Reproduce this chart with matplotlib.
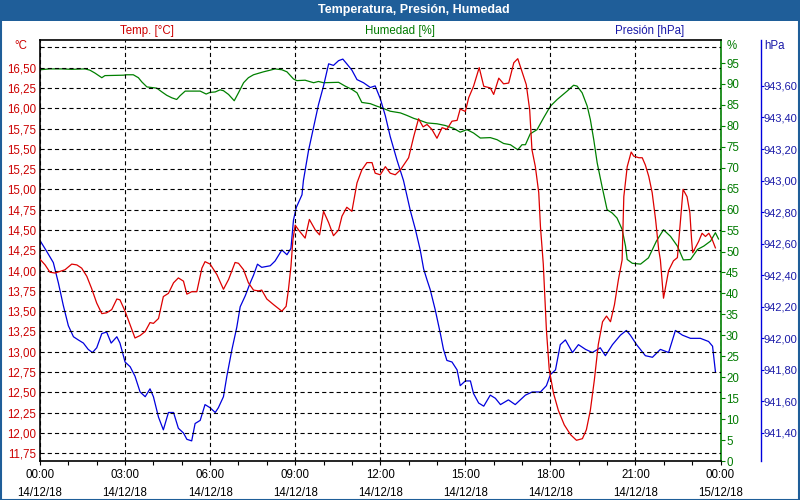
import matplotlib
matplotlib.use("Agg")
import matplotlib.pyplot as plt
from matplotlib.ticker import MultipleLocator
from matplotlib.patches import Rectangle

# ---------------- data (hours since 14/12/18 00:00) ----------------
temp_hours = [0.00, 0.18, 0.35, 0.53, 0.71, 0.88, 1.12, 1.30, 1.47, 1.65, 1.82, 2.00, 2.18, 2.35,
              2.53, 2.71, 2.82, 3.00, 3.18, 3.35, 3.53, 3.71, 3.88, 4.00, 4.18, 4.35, 4.53, 4.71,
              4.88, 5.06, 5.18, 5.35, 5.53, 5.71, 5.82, 6.00, 6.24, 6.47, 6.65, 6.88, 7.00, 7.18,
              7.35, 7.53, 7.71, 7.82, 8.00, 8.24, 8.53, 8.68, 8.76, 8.85, 8.92, 9.00, 9.12, 9.35,
              9.50, 9.71, 9.86, 10.00, 10.18, 10.35, 10.53, 10.65, 10.82, 11.00, 11.18, 11.35,
              11.53, 11.71, 11.82, 12.00, 12.18, 12.35, 12.53, 12.71, 13.00, 13.18, 13.35, 13.51,
              13.65, 13.82, 14.00, 14.18, 14.35, 14.53, 14.71, 14.82, 15.00, 15.12, 15.29, 15.49,
              15.65, 15.88, 16.00, 16.18, 16.35, 16.53, 16.71, 16.85, 17.00, 17.15, 17.27, 17.35,
              17.47, 17.59, 17.65, 17.75, 17.86, 17.96, 18.11, 18.28, 18.49, 18.71, 18.92, 19.13,
              19.27, 19.41, 19.55, 19.69, 19.84, 19.98, 20.12, 20.26, 20.40, 20.53, 20.59, 20.71,
              20.85, 20.94, 21.12, 21.24, 21.35, 21.47, 21.59, 21.71, 21.82, 21.88, 21.99, 22.17,
              22.34, 22.48, 22.68, 22.82, 22.92, 22.98, 23.02, 23.08, 23.23, 23.35, 23.47, 23.59,
              23.71, 23.82]
temp_vals = [14.14, 14.07, 13.98, 13.97, 13.99, 14.01, 14.08, 14.07, 14.03, 13.93, 13.78, 13.60, 13.47, 13.48,
             13.52, 13.65, 13.64, 13.50, 13.33, 13.17, 13.20, 13.25, 13.36, 13.35, 13.41, 13.68, 13.72, 13.85,
             13.91, 13.87, 13.71, 13.74, 13.74, 14.03, 14.11, 14.08, 13.95, 13.77, 13.89, 14.10, 14.09, 14.01,
             13.85, 13.76, 13.75, 13.76, 13.65, 13.58, 13.50, 13.56, 13.76, 14.05, 14.38, 14.56, 14.50, 14.40,
             14.63, 14.50, 14.44, 14.73, 14.59, 14.43, 14.50, 14.67, 14.78, 14.73, 15.08, 15.24,
             15.33, 15.33, 15.20, 15.18, 15.28, 15.20, 15.18, 15.24, 15.39, 15.65, 15.87, 15.77,
             15.80, 15.74, 15.63, 15.76, 15.74, 15.84, 15.85, 15.99, 15.96, 16.13, 16.27, 16.50,
             16.27, 16.25, 16.17, 16.37, 16.30, 16.31, 16.56, 16.61, 16.45, 16.29, 15.98, 15.49,
             15.28, 14.96, 14.54, 14.08, 13.27, 12.78, 12.49, 12.28, 12.10, 11.98, 11.91, 11.93,
             12.04, 12.28, 12.65, 13.09, 13.37, 13.44, 13.37, 13.58, 13.89, 14.13, 14.91, 15.28,
             15.46, 15.41, 15.39, 15.39, 15.30, 15.16, 14.96, 14.63, 14.26, 14.13, 13.66, 14.00,
             14.12, 14.16, 15.00, 14.91, 14.71, 14.38, 14.22, 14.26, 14.36, 14.46, 14.42, 14.46,
             14.38, 14.28]

hum_hours = [0.00, 0.35, 0.77, 1.12, 1.59, 1.76, 1.94, 2.18, 2.29, 2.94, 3.06, 3.29, 3.47, 3.59, 3.77,
             4.12, 4.30, 4.47, 4.65, 4.82, 4.94, 5.12, 5.65, 5.86, 6.00, 6.18, 6.35, 6.47, 6.65, 6.85,
             7.00, 7.18, 7.35, 7.53, 7.88, 8.12, 8.29, 8.53, 8.71, 8.94, 9.06, 9.35, 9.65, 9.82, 10.00,
             10.53, 10.76, 11.00, 11.18, 11.35, 11.65, 11.88, 12.06, 12.35, 12.71, 12.94, 13.18, 13.41,
             13.65, 14.00, 14.29, 14.59, 14.82, 15.06, 15.29, 15.53, 15.88, 16.12, 16.35, 16.59, 16.85,
             17.00, 17.12, 17.29, 17.53, 17.76, 18.00, 18.24, 18.59, 18.82, 18.94, 19.12, 19.30, 19.41,
             19.53, 19.65, 19.82, 20.00, 20.18, 20.35, 20.53, 20.65, 20.71, 20.89, 21.18, 21.46, 21.74,
             21.99, 22.24, 22.48, 22.69, 22.94, 23.19, 23.41, 23.65, 23.82, 23.93]
hum_vals = [93.4, 93.6, 93.6, 93.5, 93.6, 93.3, 92.6, 91.5, 92.0, 92.1, 92.2, 92.2, 91.5, 90.5, 89.3,
            89.0, 88.1, 87.3, 86.7, 86.3, 87.2, 88.3, 88.3, 87.6, 88.0, 88.1, 88.6, 88.4, 87.5, 86.0,
            87.9, 90.3, 91.5, 92.2, 92.9, 93.3, 93.6, 93.4, 92.9, 91.2, 90.8, 90.9, 90.3, 90.6, 90.3,
            90.4, 89.5, 88.7, 87.9, 85.6, 85.3, 84.7, 84.3, 83.5, 83.1, 82.5, 81.8, 81.3,
            80.7, 80.5, 80.1, 79.4, 78.5, 79.1, 78.3, 77.1, 77.2, 76.7, 75.8, 75.5, 74.3,
            75.5, 75.5, 78.1, 79.1, 81.9, 84.7, 86.3, 88.3, 89.7, 89.5, 87.9, 84.7, 81.5,
            76.7, 71.2, 65.6, 60.0, 59.2, 58.0, 55.3, 51.3, 48.1, 47.2, 47.0, 48.5, 52.5,
            55.2, 53.6, 51.3, 48.0, 48.1, 50.5, 51.3, 52.5, 54.5, 53.0]

pres_hours = [0.00, 0.24, 0.47, 0.65, 0.82, 1.00, 1.18, 1.35, 1.53, 1.70, 1.85, 2.00, 2.18, 2.35, 2.51,
              2.71, 2.82, 3.00, 3.18, 3.35, 3.53, 3.71, 3.88, 4.00, 4.18, 4.35, 4.53, 4.71, 4.88, 5.06,
              5.18, 5.35, 5.47, 5.65, 5.82, 6.00, 6.18, 6.29, 6.47, 6.59, 6.77, 6.94, 7.06, 7.24, 7.41,
              7.53, 7.67, 7.82, 8.12, 8.29, 8.53, 8.71, 8.85, 8.94, 9.04, 9.24, 9.29, 9.47, 9.65, 9.82,
              10.00, 10.18, 10.35, 10.53, 10.68, 10.82, 11.00, 11.18, 11.41, 11.65, 11.82, 12.00, 12.18,
              12.35, 12.59, 12.82, 13.06, 13.24, 13.41, 13.53, 13.65, 13.76, 13.94, 14.12, 14.23, 14.35,
              14.53, 14.71, 14.82, 15.00, 15.18, 15.29, 15.47, 15.65, 15.88, 16.06, 16.24, 16.52, 16.76,
              16.94, 17.12, 17.36, 17.65, 17.86, 18.00, 18.18, 18.35, 18.53, 18.78, 18.99, 19.24, 19.48,
              19.76, 19.94, 20.19, 20.47, 20.68, 20.82, 21.04, 21.35, 21.60, 21.88, 22.17, 22.41, 22.66,
              22.94, 23.29, 23.58, 23.72, 23.79, 23.82]
pres_vals = [942.62, 942.55, 942.48, 942.35, 942.21, 942.08, 942.01, 941.99, 941.97, 941.93, 941.91, 941.94,
             942.03, 942.04, 941.97, 942.01, 941.97, 941.85, 941.82, 941.76, 941.66, 941.63, 941.68, 941.63,
             941.50, 941.42, 941.53, 941.53, 941.43, 941.40, 941.36, 941.35, 941.46, 941.48, 941.58, 941.56,
             941.53, 941.56, 941.63, 941.76, 941.93, 942.07, 942.20, 942.27, 942.35, 942.40, 942.47, 942.45,
             942.46, 942.49, 942.56, 942.53, 942.57, 942.75, 942.83, 942.91, 943.00, 943.19, 943.34, 943.48,
             943.60, 943.74, 943.73, 943.76, 943.77, 943.74, 943.70, 943.64, 943.62, 943.59, 943.60, 943.52,
             943.41, 943.28, 943.13, 943.00, 942.81, 942.69, 942.56, 942.44, 942.37, 942.31, 942.18, 942.03,
             941.93, 941.86, 941.85, 941.80, 941.70, 941.73, 941.73, 941.65, 941.59, 941.57, 941.64, 941.62,
             941.58, 941.61, 941.58, 941.61, 941.64, 941.66, 941.66, 941.70, 941.77, 941.80, 941.96, 941.99,
             941.91, 941.96, 941.93, 941.91, 941.94, 941.89, 941.96, 942.02, 942.05, 942.02, 941.96, 941.89,
             941.88, 941.93, 941.91, 942.05, 942.02, 942.00, 942.00, 941.98, 941.95, 941.84, 941.79]

x_tick_hours = [0, 3, 6, 9, 12, 15, 18, 21, 24]
x_tick_labels = ["00:00\n14/12/18", "03:00\n14/12/18", "06:00\n14/12/18", "09:00\n14/12/18",
                 "12:00\n14/12/18", "15:00\n14/12/18", "18:00\n14/12/18", "21:00\n14/12/18",
                 "00:00\n15/12/18"]
temp_ticks = [11.75, 12.00, 12.25, 12.50, 12.75, 13.00, 13.25, 13.50, 13.75, 14.00, 14.25,
              14.50, 14.75, 15.00, 15.25, 15.50, 15.75, 16.00, 16.25, 16.50, 16.75]
hum_ticks = [0, 5, 10, 15, 20, 25, 30, 35, 40, 45, 50, 55, 60, 65, 70, 75, 80, 85, 90, 95]
pres_ticks = [941.40, 941.60, 941.80, 942.00, 942.20, 942.40, 942.60, 942.80, 943.00,
              943.20, 943.40, 943.60]

title = "Temperatura, Presión, Humedad"
series_names = ["Temp. [°C]", "Humedad [%]", "Presión [hPa]"]
units = ["°C", "%", "hPa"]

# ---------------- styling ----------------
RED, GREEN, BLUE = "#dd0000", "#008000", "#0000dd"
RED_T, GREEN_T, BLUE_T = "#cc0000", "#007a00", "#1a1aa8"
BAR = "#1f5e99"
plt.rcParams['font.family'] = ['Liberation Sans', 'DejaVu Sans']
plt.rcParams['lines.scale_dashes'] = False
FS = 8.3

W, H = 800, 500
fig = plt.figure(figsize=(8, 5), dpi=100)
fig.patch.set_facecolor('white')

px_l, px_r, px_t, px_b = 40, 720.5, 40, 461
ax = fig.add_axes([px_l / W, 1 - px_b / H, (px_r - px_l) / W, (px_b - px_t) / H])
ax2 = ax.twinx()
ax3 = ax.twinx()

def cfmt(v, nd=2):
    return f"{v:.{nd}f}".replace('.', ',')

# temperature (left)
ax.set_xlim(0, 24)
ax.set_ylim(11.655, 16.84)
ax.set_yticks(temp_ticks)
ax.set_yticklabels([cfmt(v) for v in temp_ticks[:-1]] + [""])
ax.tick_params(axis='y', left=True, length=0, pad=3, labelsize=FS, labelcolor=RED_T)
ax.set_xticks(x_tick_hours)
ax.set_xticklabels(x_tick_labels)
ax.xaxis.set_minor_locator(MultipleLocator(1))
ax.tick_params(axis='x', which='both', direction='out', length=3, width=0.8, color='black',
               labelsize=FS, pad=3)
for lab in ax.get_xticklabels():
    lab.set_linespacing(1.6)
ax.grid(True, which='major', axis='both', color='black', linewidth=0.8,
        linestyle=(0, (3.0, 2.2)))
for s in ['left', 'top', 'bottom']:
    ax.spines[s].set_color('black')
    ax.spines[s].set_linewidth(1.2)
ax.spines['right'].set_visible(False)

# humidity (right, green)
ax2.set_ylim(0, 100.5)
ax2.set_yticks(hum_ticks)
ax2.set_yticklabels([str(v) for v in hum_ticks])
ax2.tick_params(axis='y', direction='out', length=3, width=0.8, color=GREEN,
                labelcolor=GREEN_T, labelsize=FS, pad=1)
for s in ['left', 'top', 'bottom']:
    ax2.spines[s].set_visible(False)
ax2.spines['right'].set_color(GREEN)
ax2.spines['right'].set_linewidth(1.2)

# pressure (outer right, blue)
ax3.set_ylim(941.2225, 943.891)
ax3.set_yticks(pres_ticks)
ax3.set_yticklabels([cfmt(v) for v in pres_ticks])
ax3.spines['right'].set_position(('axes', (760.5 - px_l) / (px_r - px_l)))
ax3.tick_params(axis='y', direction='out', length=1.8, width=0.8, color=BLUE,
                labelcolor=BLUE_T, labelsize=8.0, pad=0.2)
for s in ['left', 'top', 'bottom']:
    ax3.spines[s].set_visible(False)
ax3.spines['right'].set_color(BLUE)
ax3.spines['right'].set_linewidth(1.0)

# series
ax2.plot(hum_hours, hum_vals, color=GREEN, linewidth=0.9, zorder=3)
ax3.plot(pres_hours, pres_vals, color=BLUE, linewidth=0.9, zorder=3)
ax.set_zorder(ax3.get_zorder() + 1)
ax.patch.set_visible(False)
ax.plot(temp_hours, temp_vals, color=RED, linewidth=0.9, zorder=3)
ax3.patch.set_visible(False)
ax2.patch.set_visible(False)

fig.patches.append(Rectangle((px_l / W, 1 - px_b / H), (px_r - px_l) / W, (px_b - px_t) / H,
                             transform=fig.transFigure, facecolor='white', edgecolor='none',
                             zorder=-5))

# title bar & frame
fig.patches.append(Rectangle((0, 1 - 21 / H), 1, 21 / H, transform=fig.transFigure,
                             facecolor=BAR, edgecolor='none', zorder=0))
fig.patches.append(Rectangle((0.5 / W, 0.5 / H), 1 - 1.5 / W, 1 - 1.5 / H, transform=fig.transFigure,
                             facecolor='none', edgecolor=BAR, linewidth=1.5, zorder=10))
fig.text(414 / W, 1 - 10.5 / H, title, color='white', fontsize=9, fontweight='bold',
         ha='center', va='center')

# series names
fig.text(147 / W, 1 - 31 / H, series_names[0], color=RED_T, fontsize=FS, ha='center', va='center')
fig.text(400 / W, 1 - 31 / H, series_names[1], color=GREEN_T, fontsize=FS, ha='center', va='center')
fig.text(650 / W, 1 - 31 / H, series_names[2], color=BLUE_T, fontsize=FS, ha='center', va='center')

# units
fig.text(21 / W, 1 - 46 / H, units[0], color=RED_T, fontsize=FS, ha='center', va='center')
fig.text(727 / W, 1 - 46 / H, units[1], color=GREEN_T, fontsize=FS, ha='left', va='center')
fig.text(764 / W, 1 - 46 / H, units[2], color=BLUE_T, fontsize=FS, ha='left', va='center')

fig.savefig("out.png", dpi=100, facecolor='white')
